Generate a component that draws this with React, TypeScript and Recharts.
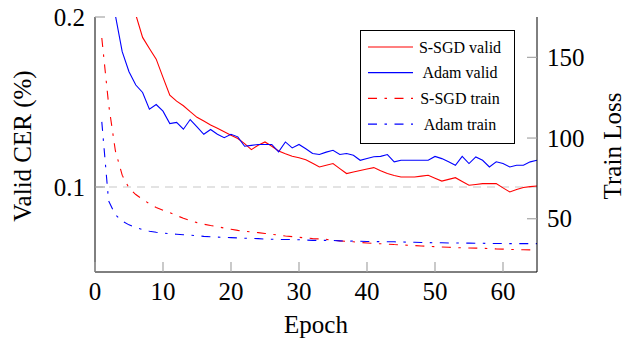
import React from 'react';
import { LineChart, Line, XAxis, YAxis, ReferenceLine, Legend } from 'recharts';

const epochs = [
  1, 2, 3, 4, 5, 6, 7, 8, 9, 10, 11, 12, 13,
  14, 15, 16, 17, 18, 19, 20, 21, 22, 23, 24, 25, 26,
  27, 28, 29, 30, 31, 32, 33, 34, 35, 36, 37, 38, 39,
  40, 41, 42, 43, 44, 45, 46, 47, 48, 49, 50, 51, 52,
  53, 54, 55, 56, 57, 58, 59, 60, 61, 62, 63, 64, 65,
];

// valid CER (left axis); null = above the plot top
const sgdValid = [
  null, null, null, null, null, 0.2013, 0.188, 0.1815, 0.1752, 0.1645, 0.154, 0.1505, 0.1478,
  0.1443, 0.141, 0.1388, 0.1365, 0.1345, 0.1325, 0.1305, 0.1285, 0.1255, 0.122, 0.1245, 0.1265, 0.124,
  0.1212, 0.1195, 0.1181, 0.1172, 0.116, 0.114, 0.1118, 0.1128, 0.1138, 0.1108, 0.1079, 0.1088, 0.1097,
  0.1106, 0.1114, 0.1095, 0.1079, 0.1068, 0.1059, 0.1059, 0.1059, 0.1064, 0.1069, 0.1052, 0.1035, 0.1045,
  0.1055, 0.1032, 0.101, 0.1015, 0.102, 0.102, 0.102, 0.0995, 0.0971, 0.0985, 0.0997, 0.1002, 0.1006,
];

const adamValid = [
  null, null, 0.2009, 0.1796, 0.1678, 0.16, 0.1556, 0.1458, 0.1485, 0.1446, 0.1373, 0.138, 0.134,
  0.1397, 0.1354, 0.131, 0.1338, 0.131, 0.129, 0.131, 0.1295, 0.124, 0.1245, 0.125, 0.125, 0.125,
  0.1207, 0.1265, 0.123, 0.125, 0.1225, 0.1197, 0.1191, 0.1205, 0.1216, 0.1191, 0.1197, 0.1187, 0.1157,
  0.1168, 0.1178, 0.118, 0.1191, 0.1148, 0.1157, 0.1157, 0.1157, 0.1157, 0.1157, 0.118, 0.1167, 0.1148,
  0.1128, 0.118, 0.1138, 0.1177, 0.1157, 0.1118, 0.1148, 0.1138, 0.1118, 0.1128, 0.1128, 0.1148, 0.1157,
];

// train loss (right axis)
const sgdTrain = [
  162, 121, 92, 77, 69, 65, 62, 59.3, 57, 55.3, 53.8, 52, 50.3,
  48.8, 47.6, 46.6, 45.8, 45.1, 44.2, 43.5, 42.8, 42.2, 41.8, 41.4, 40.9, 40.4,
  39.8, 39.3, 38.9, 38.5, 38.1, 37.7, 37.5, 37.2, 36.7, 36.3, 36, 35.7, 35.3,
  35, 34.7, 34.5, 34.3, 34, 33.8, 33.6, 33.4, 33.1, 32.9, 32.7, 32.5, 32.3,
  32.1, 32, 31.9, 31.8, 31.7, 31.5, 31.3, 31.2, 31, 30.9, 30.8, 30.7, 30.6,
];

const adamTrain = [
  110, 61, 52.5, 48.5, 46.2, 44.5, 43.3, 42.3, 41.6, 41.1, 40.7, 40.4, 40.1,
  39.8, 39.5, 39.1, 38.8, 38.6, 38.4, 38.3, 38.1, 37.9, 37.8, 37.7, 37.4, 37.3,
  37.2, 37.1, 37.1, 37, 36.8, 36.6, 36.6, 36.6, 36.5, 36.3, 36.1, 36.2, 36.1,
  35.9, 35.8, 35.8, 35.7, 35.7, 35.6, 35.5, 35.4, 35.3, 35.2, 35.1, 35.1, 35,
  35, 34.9, 34.9, 34.8, 34.8, 34.7, 34.7, 34.6, 34.6, 34.6, 34.6, 34.6, 34.6,
];

const xTicks = [0, 10, 20, 30, 40, 50, 60];
const cerTicks = [0.1, 0.2];
const lossTicks = [50, 100, 150];

const seriesNames = ['S-SGD valid', 'Adam valid', 'S-SGD train', 'Adam train'];

const FONT = '"Liberation Serif", "Times New Roman", serif';
const TICK_GRAY = '#a6a6a6';
const DASHDOT = '9 7.5 2.5 7.5';

const data = epochs.map((epoch, i) => ({
  epoch,
  sgdValid: sgdValid[i],
  adamValid: adamValid[i],
  sgdTrain: sgdTrain[i],
  adamTrain: adamTrain[i],
}));

const BottomTick = ({ x, y, payload }: any) => (
  <g>
    <line x1={x} x2={x} y1={y} y2={y - 10} stroke={TICK_GRAY} strokeWidth={1.2} />
    <text x={x} y={y + 28} textAnchor="middle" fontSize={25} fontFamily={FONT} fill="#000">
      {payload.value}
    </text>
  </g>
);

const TopTick = ({ x, y }: any) => (
  <line x1={x} x2={x} y1={y} y2={y + 10} stroke={TICK_GRAY} strokeWidth={1.2} />
);

const LeftTick = ({ x, y, payload }: any) => (
  <g>
    <line x1={x} x2={x + 10} y1={y} y2={y} stroke={TICK_GRAY} strokeWidth={1.2} />
    <text x={x - 10} y={y + 8.5} textAnchor="end" fontSize={25} fontFamily={FONT} fill="#000">
      {Number(payload.value).toFixed(1)}
    </text>
  </g>
);

const RightTick = ({ x, y, payload }: any) => (
  <g>
    <line x1={x} x2={x - 10} y1={y} y2={y} stroke={TICK_GRAY} strokeWidth={1.2} />
    <text x={x + 10} y={y + 8.5} textAnchor="start" fontSize={25} fontFamily={FONT} fill="#000">
      {payload.value}
    </text>
  </g>
);

const legendStyles = [
  { color: '#ff0000', dash: undefined },
  { color: '#0000ff', dash: undefined },
  { color: '#ff0000', dash: DASHDOT },
  { color: '#0000ff', dash: DASHDOT },
];

const LegendBox = () => (
  <svg width={155} height={114} style={{ display: 'block' }}>
    <rect x={0.5} y={0.5} width={154} height={113} fill="#fff" stroke="#000" strokeWidth={1} />
    {seriesNames.map((name, i) => {
      const cy = 17 + i * 25.7;
      return (
        <g key={name}>
          <line
            x1={8}
            x2={53}
            y1={cy}
            y2={cy}
            stroke={legendStyles[i].color}
            strokeWidth={1.2}
            strokeDasharray={legendStyles[i].dash}
          />
          <text x={100} y={cy + 5.5} textAnchor="middle" fontSize={16} fontFamily={FONT} fill="#000">
            {name}
          </text>
        </g>
      );
    })}
  </svg>
);

export default function App() {
  return (
    <div style={{ position: 'absolute', left: 0, top: 0, background: '#fff' }}>
      <LineChart
        width={626}
        height={339}
        data={data}
        margin={{ top: 17, right: 0, left: 0, bottom: 0 }}
      >
        <XAxis
          xAxisId="bottom"
          dataKey="epoch"
          type="number"
          domain={[0, 65]}
          ticks={xTicks}
          allowDataOverflow
          height={67}
          tickSize={0}
          tickMargin={0}
          tickLine={false}
          tick={<BottomTick />}
          axisLine={{ stroke: '#000', strokeWidth: 1 }}
          label={() => (
            <text x={316} y={333} textAnchor="middle" fontSize={25} fontFamily={FONT} fill="#000">
              Epoch
            </text>
          )}
        />
        <XAxis
          xAxisId="top"
          orientation="top"
          dataKey="epoch"
          type="number"
          domain={[0, 65]}
          ticks={xTicks}
          allowDataOverflow
          height={0}
          tickSize={0}
          tickMargin={0}
          tickLine={false}
          tick={<TopTick />}
          axisLine={{ stroke: '#000', strokeWidth: 1 }}
        />
        <YAxis
          yAxisId="cer"
          orientation="left"
          type="number"
          domain={[0.05, 0.2]}
          ticks={cerTicks}
          allowDataOverflow
          width={95}
          tickSize={0}
          tickMargin={0}
          tickLine={false}
          tick={<LeftTick />}
          axisLine={{ stroke: '#000', strokeWidth: 1 }}
          label={() => (
            <text
              x={31}
              y={146}
              transform="rotate(-90 31 146)"
              textAnchor="middle"
              fontSize={25}
              fontFamily={FONT}
              fill="#000"
            >
              Valid CER (%)
            </text>
          )}
        />
        <YAxis
          yAxisId="loss"
          orientation="right"
          type="number"
          domain={[17, 175]}
          ticks={lossTicks}
          allowDataOverflow
          width={89}
          tickSize={0}
          tickMargin={0}
          tickLine={false}
          tick={<RightTick />}
          axisLine={{ stroke: '#000', strokeWidth: 1 }}
          label={() => (
            <text
              x={621}
              y={146}
              transform="rotate(-90 621 146)"
              textAnchor="middle"
              fontSize={25}
              fontFamily={FONT}
              fill="#000"
            >
              Train Loss
            </text>
          )}
        />

        <ReferenceLine
          xAxisId="bottom"
          yAxisId="cer"
          y={0.1}
          stroke="#c8c8c8"
          strokeWidth={1.2}
          strokeDasharray="8 6"
        />

        <Line
          xAxisId="bottom"
          yAxisId="cer"
          dataKey="sgdValid"
          name={seriesNames[0]}
          type="linear"
          stroke="#ff0000"
          strokeWidth={1.1}
          dot={false}
          isAnimationActive={false}
        />
        <Line
          xAxisId="bottom"
          yAxisId="cer"
          dataKey="adamValid"
          name={seriesNames[1]}
          type="linear"
          stroke="#0000ff"
          strokeWidth={1.1}
          dot={false}
          isAnimationActive={false}
        />
        <Line
          xAxisId="bottom"
          yAxisId="loss"
          dataKey="sgdTrain"
          name={seriesNames[2]}
          type="linear"
          stroke="#ff0000"
          strokeWidth={1.1}
          strokeDasharray={DASHDOT}
          dot={false}
          isAnimationActive={false}
        />
        <Line
          xAxisId="bottom"
          yAxisId="loss"
          dataKey="adamTrain"
          name={seriesNames[3]}
          type="linear"
          stroke="#0000ff"
          strokeWidth={1.1}
          strokeDasharray={DASHDOT}
          dot={false}
          isAnimationActive={false}
        />

        <Legend
          layout="vertical"
          align="center"
          verticalAlign="middle"
          content={() => <LegendBox />}
          wrapperStyle={{ left: 360, top: 30, width: 155, height: 114 }}
        />
      </LineChart>
    </div>
  );
}
